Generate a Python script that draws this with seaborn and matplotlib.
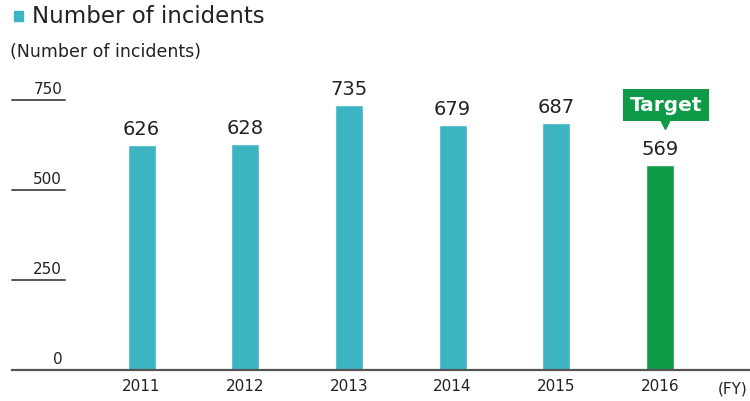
import matplotlib
matplotlib.use("Agg")
import matplotlib.pyplot as plt
import matplotlib.transforms as mtransforms
import seaborn as sns
import pandas as pd

years = ["2011", "2012", "2013", "2014", "2015", "2016"]
incidents = [626, 628, 735, 679, 687, 569]
y_ticks = [0, 250, 500, 750]

teal = "#3db4c2"
green = "#0e9a47"
colors = [teal] * 5 + [green]

df = pd.DataFrame({"year": years, "incidents": incidents})

sns.set_style("white")
plt.rcParams["font.family"] = ["DejaVu Sans"]

fig = plt.figure(figsize=(7.5, 4.02), dpi=100)
ax = fig.add_axes([0.016, 0.077, 0.984, 0.717])

sns.barplot(data=df, x="year", y="incidents", hue="year", palette=colors,
            width=0.27, legend=False, saturation=1, ax=ax)

ax.set_xlim(-1.25, 5.87)
ax.set_ylim(0, 800)
ax.set_xlabel("")
ax.set_ylabel("")
ax.set_yticks([])
ax.tick_params(axis="x", length=0, labelsize=11, colors="#222222", pad=6)

for s in ["top", "right", "left"]:
    ax.spines[s].set_visible(False)
ax.spines["bottom"].set_color("#555555")
ax.spines["bottom"].set_linewidth(1.6)

# y ticks drawn as short underlines with labels on top
blend = mtransforms.blended_transform_factory(ax.transAxes, ax.transData)
for t in y_ticks:
    if t > 0:
        ax.plot([0, 0.072], [t, t], color="#555555", lw=1.4, transform=blend,
                clip_on=False)
    ax.text(0.068, t + 12, str(t), transform=blend, ha="right", va="bottom",
            fontsize=11, color="#222222")

# value labels
for i, v in enumerate(incidents):
    ax.annotate(str(v), (i, v), xytext=(0, 5), textcoords="offset points",
                ha="center", va="bottom", fontsize=14, color="#222222")

# "Target" callout over the last bar
last = len(incidents) - 1
ax.annotate("Target", (last, incidents[last]), xytext=(4.5, 36.5),
            textcoords="offset points", ha="center", va="bottom",
            fontsize=14.5, color="white", fontweight="bold",
            bbox=dict(boxstyle="square,pad=0.32", fc=green, ec="none"))
ax.plot([last], [incidents[last]], marker="v", color=green, markersize=8,
        transform=ax.transData + mtransforms.ScaledTranslation(3.5 / 72, 30 / 72,
                                                              fig.dpi_scale_trans),
        clip_on=False)

ax.text(5.7, -0.035, "(FY)", transform=mtransforms.blended_transform_factory(
    ax.transData, ax.transAxes), ha="center", va="top", fontsize=11,
    color="#222222")

# legend / unit label
fig.patches.append(plt.Rectangle((0.019, 0.946), 0.012, 0.025, color=teal,
                                 transform=fig.transFigure, figure=fig))
fig.text(0.042, 0.96, "Number of incidents", fontsize=16.5, va="center",
         color="#222222")
fig.text(0.014, 0.87, "(Number of incidents)", fontsize=12.5, va="center",
         color="#222222")

fig.savefig("out.png", dpi=100, facecolor="white")
